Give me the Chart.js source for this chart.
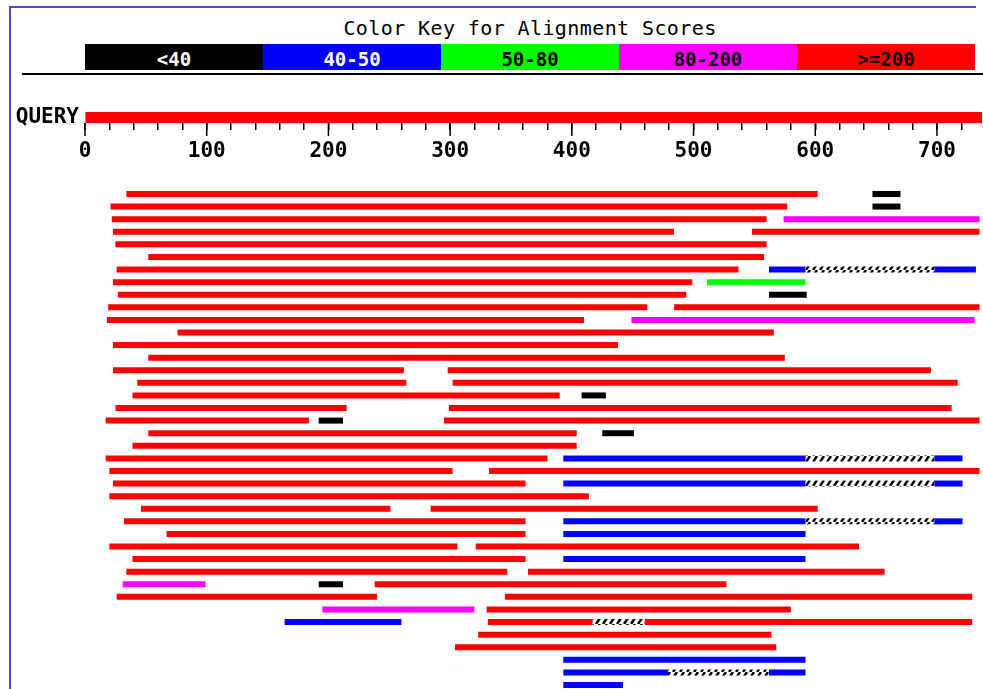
<!DOCTYPE html>
<html>
<head>
<meta charset="utf-8">
<script src="https://cdn.jsdelivr.net/npm/chart.js@4.4.1/dist/chart.umd.min.js"></script>
<style>
  html, body { margin: 0; padding: 0; background: #fff; }
  #wrap { position: relative; width: 983px; height: 689px; overflow: hidden; background: #fff; }
  #frame { position: absolute; left: 9px; top: 6px; width: 965px; height: 700px;
           border-top: 2px solid #4b4bd6; border-left: 2px solid #4b4bd6; }
  #title { position: absolute; left: 85px; width: 890px; top: 18px; text-align: center;
           font: 20px/20px 'DejaVu Sans Mono', monospace; letter-spacing: 0.4px; color: #000; white-space: nowrap; }
  #key { position: absolute; left: 85px; top: 44px; width: 890px; height: 26px; display: flex; }
  #key div { flex: 1; height: 26px; text-align: center; font: bold 19px/30px 'DejaVu Sans Mono', monospace; white-space: nowrap; overflow: visible; }
  #rule { position: absolute; left: 22px; top: 73px; width: 961px; height: 2px; background: #000; }
  canvas { position: absolute; left: 0; top: 0; }
</style>
</head>
<body>
<div id="wrap">
  <div id="frame"></div>
  <div id="title"></div>
  <div id="key"></div>
  <div id="rule"></div>
  <canvas id="hits" width="983" height="689"></canvas>
  <canvas id="query" width="983" height="170"></canvas>
</div>
<script>
// ---------- DATA ----------
const titleText = 'Color Key for Alignment Scores';
const keyLabels = ['<40', '40-50', '50-80', '80-200', '>=200'];
const keyColors = ['#000000', '#0000ff', '#00ff00', '#ff00ff', '#ff0000'];
const keyTextColors = ['#ffffff', '#ffffff', '#000000', '#000000', '#000000'];

const queryLabel = 'QUERY';
const queryLength = 737;
const tickStep = 20;
const labelStep = 100;

const rowLabels = Array.from({length: 40}, (_, i) => String(i + 1));

// [row, start, end] for each hit segment, grouped by score colour
const redHits = [
  [1,34,602],[2,21,577],[3,22,560],[4,23,484],[4,548,735],[5,25,560],[6,52,558],
  [7,26,537],[8,23,499],[9,27,494],[10,19,462],[10,484,735],[11,18,410],[12,76,566],
  [13,23,438],[14,52,575],[15,23,262],[15,298,695],[16,43,264],[16,302,717],
  [17,39,390],[18,25,215],[18,299,712],[19,17,184],[19,295,735],[20,52,404],
  [21,39,404],[22,17,380],[23,20,302],[23,332,735],[24,23,362],[25,20,414],
  [26,46,251],[26,284,602],[27,32,362],[28,67,362],[29,20,306],[29,321,636],
  [30,39,362],[31,34,347],[31,364,657],[32,238,527],[33,26,240],[33,345,729],
  [34,330,580],[35,331,417],[35,460,729],[36,323,564],[37,304,568]
];
const magentaHits = [
  [3,574,735],[11,449,731],[32,31,99],[34,195,320]
];
const greenHits = [
  [8,511,592]
];
const blueHits = [
  [7,562,592],[7,698,732],[22,393,592],[22,698,721],[24,393,592],[24,698,721],
  [27,393,592],[27,698,721],[28,393,592],[30,393,592],[35,164,260],
  [38,393,592],[39,393,479],[39,562,592],[40,393,442]
];
const blackHits = [
  [1,647,670],[2,647,670],[9,562,593],[17,408,428],[19,192,212],[20,425,451],[32,192,212]
];
const gapHits = [
  [7,592,698],[22,592,698],[24,592,698],[27,592,698],[35,417,460],[39,479,562]
];

// ---------- COLOUR KEY ----------
document.getElementById('title').textContent = titleText;
const keyEl = document.getElementById('key');
keyLabels.forEach((lab, i) => {
  const d = document.createElement('div');
  d.textContent = lab;
  d.style.background = keyColors[i];
  d.style.color = keyTextColors[i];
  keyEl.appendChild(d);
});

const monoBold = (size) => ({ family: "'DejaVu Sans Mono', monospace", size: size, weight: 'bold' });

// ---------- QUERY + AXIS ----------
const majorTicks = {
  id: 'majorTicks',
  afterDraw(chart) {
    const s = chart.scales.x;
    const ctx = chart.ctx;
    const b = chart.chartArea.bottom;
    ctx.save();
    ctx.strokeStyle = '#000';
    ctx.lineWidth = 1.5;
    s.ticks.forEach(t => {
      if (t.value % labelStep === 0) {
        const px = s.getPixelForValue(t.value);
        ctx.beginPath();
        ctx.moveTo(px, b);
        ctx.lineTo(px, b + 13);
        ctx.stroke();
      }
    });
    ctx.restore();
  }
};

new Chart(document.getElementById('query'), {
  type: 'bar',
  data: {
    labels: [queryLabel],
    datasets: [{
      data: [[0, queryLength]],
      backgroundColor: '#ff0000',
      borderWidth: 0,
      barPercentage: 1,
      categoryPercentage: 1
    }]
  },
  options: {
    indexAxis: 'y',
    responsive: false,
    animation: false,
    layout: { padding: { top: 112, right: 1, left: 0, bottom: 0 } },
    plugins: { legend: { display: false }, tooltip: { enabled: false } },
    scales: {
      x: {
        type: 'linear',
        position: 'bottom',
        min: 0,
        max: queryLength,
        afterFit: s => { s.height = 47; },
        grid: { drawOnChartArea: false, drawTicks: true, tickLength: 7, color: '#000', lineWidth: 1.5 },
        border: { display: false },
        ticks: {
          stepSize: tickStep,
          includeBounds: false,
          autoSkip: false,
          maxRotation: 0,
          padding: 9,
          color: '#000',
          font: monoBold(21),
          callback: v => (v % labelStep === 0 ? String(v) : '')
        }
      },
      y: {
        afterFit: s => { s.width = 85; },
        grid: { display: false, drawTicks: false },
        border: { display: false },
        ticks: { color: '#000', padding: 6, font: monoBold(21) }
      }
    }
  },
  plugins: [majorTicks]
});

// ---------- HITS ----------
const hitsCanvas = document.getElementById('hits');
const pc = document.createElement('canvas');
pc.width = 7; pc.height = 6;
const pctx = pc.getContext('2d');
pctx.fillStyle = '#ffffff';
pctx.fillRect(0, 0, 7, 6);
pctx.strokeStyle = '#000000';
pctx.lineWidth = 2.5;
pctx.beginPath();
pctx.moveTo(1, 6);
pctx.lineTo(5, 0);
pctx.stroke();
const hatch = hitsCanvas.getContext('2d').createPattern(pc, 'repeat');

const toPoints = arr => arr.map(s => ({ y: String(s[0]), x: [s[1], s[2]] }));
const hitSet = (label, arr, color) => ({
  label: label,
  data: toPoints(arr),
  backgroundColor: color,
  borderWidth: 0,
  borderSkipped: false,
  grouped: false,
  clip: false,
  maxBarThickness: 6
});

new Chart(hitsCanvas, {
  type: 'bar',
  data: {
    labels: rowLabels,
    datasets: [
      hitSet('>=200', redHits, '#ff0000'),
      hitSet('80-200', magentaHits, '#ff00ff'),
      hitSet('50-80', greenHits, '#00ff00'),
      hitSet('40-50', blueHits, '#0000ff'),
      hitSet('<40', blackHits, '#000000'),
      hitSet('gap', gapHits, hatch)
    ]
  },
  options: {
    indexAxis: 'y',
    responsive: false,
    animation: false,
    layout: { padding: { top: 194, bottom: 4, left: 85, right: 1 } },
    plugins: { legend: { display: false }, tooltip: { enabled: false } },
    scales: {
      x: { type: 'linear', min: 0, max: queryLength, display: false },
      y: { type: 'category', offset: false, display: false }
    }
  }
});
</script>
</body>
</html>
